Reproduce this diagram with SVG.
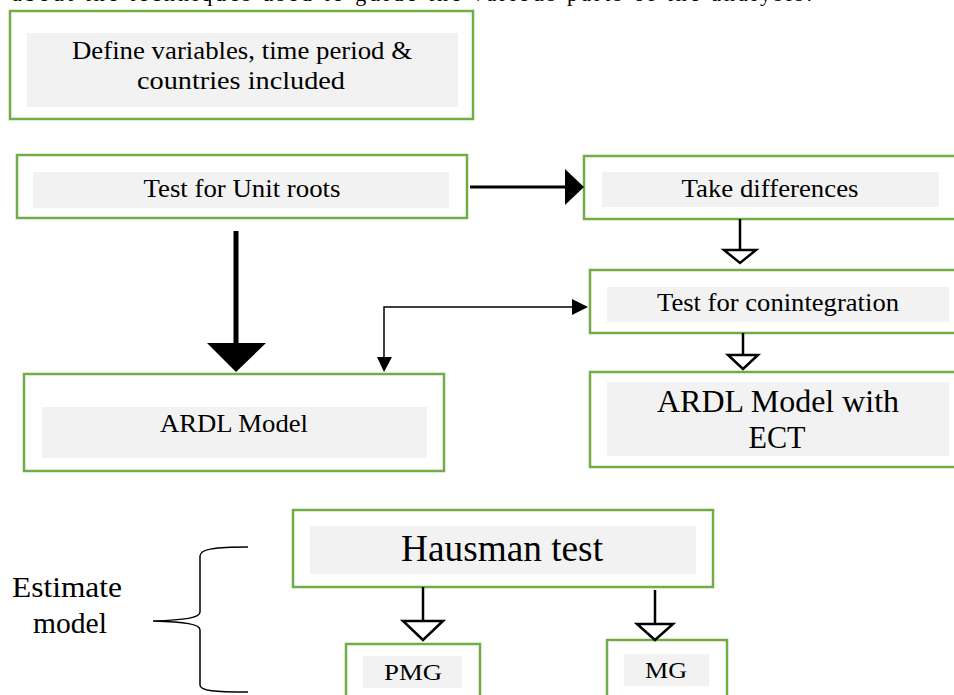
<svg xmlns="http://www.w3.org/2000/svg" width="954" height="695" viewBox="0 0 954 695" font-family="'Liberation Serif', 'Times New Roman', Times, serif">
<style>
.box{fill:#ffffff;stroke:#70ad47;stroke-width:2.5}
.inner{fill:#f2f2f2}
.t{font-family:'Liberation Serif','Times New Roman',Times,serif;fill:#000;text-anchor:middle}
.thin{fill:none;stroke:#000;stroke-width:1.5}
.med{fill:none;stroke:#000;stroke-width:2.5}
.open{fill:#fff;stroke:#000;stroke-width:2.5;stroke-linejoin:miter}
</style>
<rect width="954" height="695" fill="#fff"/>
<text x="412" y="1" class="t" font-size="22" fill="#333" textLength="800" lengthAdjust="spacing">about the techniques used to guide the various parts of the analysis.</text>

<g id="define">
<rect class="box" x="10" y="11" width="463" height="108"/>
<rect class="inner" x="27" y="33" width="431" height="74"/>
<text class="t" font-size="26" x="242" y="59" textLength="340" lengthAdjust="spacingAndGlyphs">Define variables, time period &amp;</text>
<text class="t" font-size="26" x="241" y="89" textLength="208" lengthAdjust="spacingAndGlyphs">countries included</text>
</g>

<g id="unitroots">
<rect class="box" x="17" y="155" width="450" height="63"/>
<rect class="inner" x="33" y="172" width="416" height="36"/>
<text class="t" font-size="25" x="242" y="197" textLength="197" lengthAdjust="spacingAndGlyphs">Test for Unit roots</text>
</g>

<g id="differences">
<rect class="box" x="584" y="156" width="372" height="63"/>
<rect class="inner" x="602" y="172" width="337" height="35"/>
<text class="t" font-size="25" x="770" y="197" textLength="177" lengthAdjust="spacingAndGlyphs">Take differences</text>
</g>

<g id="cointegration">
<rect class="box" x="590" y="270" width="366" height="63"/>
<rect class="inner" x="607" y="287" width="342" height="35"/>
<text class="t" font-size="25" x="778" y="311" textLength="242" lengthAdjust="spacingAndGlyphs">Test for conintegration</text>
</g>

<g id="ardl">
<rect class="box" x="24" y="374" width="420" height="97"/>
<rect class="inner" x="42" y="407" width="385" height="51"/>
<text class="t" font-size="25" x="234" y="432" textLength="148" lengthAdjust="spacingAndGlyphs">ARDL Model</text>
</g>

<g id="ardlect">
<rect class="box" x="590" y="372" width="366" height="95"/>
<rect class="inner" x="607" y="382" width="342" height="74"/>
<text class="t" font-size="32" x="778" y="412" textLength="242" lengthAdjust="spacingAndGlyphs">ARDL Model with</text>
<text class="t" font-size="32" x="777" y="448" textLength="57" lengthAdjust="spacingAndGlyphs">ECT</text>
</g>

<g id="hausman">
<rect class="box" x="293" y="510" width="420" height="77"/>
<rect class="inner" x="310" y="526" width="386" height="48"/>
<text class="t" font-size="37" x="502" y="561" textLength="202" lengthAdjust="spacingAndGlyphs">Hausman test</text>
</g>

<g id="pmg">
<rect class="box" x="346" y="644" width="134" height="60"/>
<rect class="inner" x="363" y="656" width="99" height="32"/>
<text class="t" font-size="24" x="413" y="680" textLength="58" lengthAdjust="spacingAndGlyphs">PMG</text>
</g>

<g id="mg">
<rect class="box" x="607" y="640" width="120" height="64"/>
<rect class="inner" x="624" y="654" width="85" height="32"/>
<text class="t" font-size="24" x="666" y="678" textLength="42" lengthAdjust="spacingAndGlyphs">MG</text>
</g>

<g id="estimate">
<text class="t" font-size="30" x="67" y="597" textLength="110" lengthAdjust="spacingAndGlyphs">Estimate</text>
<text class="t" font-size="30" x="70" y="633" textLength="74" lengthAdjust="spacingAndGlyphs">model</text>
<path class="thin" d="M248,547 C215,547 200,549 200,556 L200,612 C200,618 185,620 153,621 C185,622 200,624 200,630 L200,685 C200,691 215,692 248,692"/>
</g>

<g id="connectors">
<line x1="470" y1="187" x2="566" y2="187" stroke="#000" stroke-width="3"/>
<polygon points="565,169 584,187 565,205" fill="#000"/>

<line x1="236" y1="231" x2="236" y2="344" stroke="#000" stroke-width="5"/>
<polygon points="207,343 266,343 236,372" fill="#000"/>

<polyline class="thin" points="384,358 384,307 573,307"/>
<polygon points="572,299 588,307 572,315" fill="#000"/>
<polygon points="377,357 392,357 384,372" fill="#000"/>

<line class="med" x1="740" y1="219" x2="740" y2="250"/>
<polygon class="open" points="724,250 756,250 740,263"/>

<line class="med" x1="743" y1="333" x2="743" y2="355"/>
<polygon class="open" points="728,355 758,355 743,369"/>

<line class="med" x1="423" y1="587" x2="423" y2="621"/>
<polygon class="open" points="403,621 443,621 423,640"/>

<line class="med" x1="655" y1="590" x2="655" y2="624"/>
<polygon class="open" points="637,624 673,624 655,640"/>
</g>
</svg>
